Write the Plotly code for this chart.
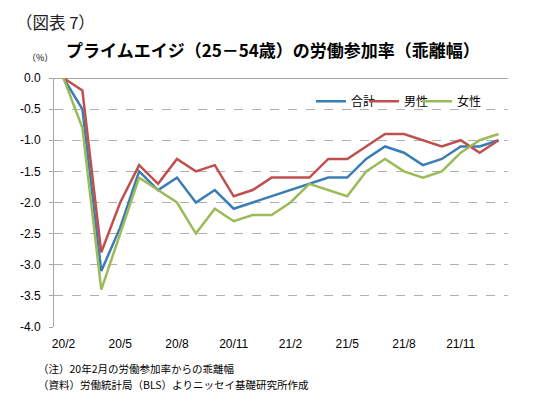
import plotly.graph_objects as go

months = ["20/2", "20/3", "20/4", "20/5", "20/6", "20/7", "20/8", "20/9", "20/10", "20/11", "20/12",
          "21/1", "21/2", "21/3", "21/4", "21/5", "21/6", "21/7", "21/8", "21/9", "21/10", "21/11",
          "21/12", "22/1"]
total = [0.0, -0.5, -3.1, -2.4, -1.5, -1.8, -1.6, -2.0, -1.8, -2.1, -2.0, -1.9,
         -1.8, -1.7, -1.6, -1.6, -1.3, -1.1, -1.2, -1.4, -1.3, -1.1, -1.1, -1.0]
male = [0.0, -0.2, -2.8, -2.0, -1.4, -1.7, -1.3, -1.5, -1.4, -1.9, -1.8, -1.6,
        -1.6, -1.6, -1.3, -1.3, -1.1, -0.9, -0.9, -1.0, -1.1, -1.0, -1.2, -1.0]
female = [0.0, -0.8, -3.4, -2.5, -1.6, -1.8, -2.0, -2.5, -2.1, -2.3, -2.2, -2.2,
          -2.0, -1.7, -1.8, -1.9, -1.5, -1.3, -1.5, -1.6, -1.5, -1.2, -1.0, -0.9]
series_names = ["合計", "男性", "女性"]
colors = ["#3A7DB5", "#C0504D", "#9BBB59"]
x_ticks = ["20/2", "20/5", "20/8", "20/11", "21/2", "21/5", "21/8", "21/11"]
y_ticks = [0.0, -0.5, -1.0, -1.5, -2.0, -2.5, -3.0, -3.5, -4.0]
y_ticktext = ["0.0", "-0.5", "-1.0", "-1.5", "-2.0", "-2.5", "-3.0", "-3.5", "-4.0"]

FONT = "Noto Sans CJK JP"
NUMFONT = "Liberation Sans"

fig = go.Figure()
for name, vals, col in zip(series_names, [total, male, female], colors):
    fig.add_trace(go.Scatter(x=months, y=vals, mode="lines", name=name,
                             line=dict(color=col, width=2.5)))
# invisible spacer entry so the compact legend does not clip the last label
fig.add_trace(go.Scatter(x=[months[0]], y=[None], mode="lines", name=" ", hoverinfo="skip",
                         line=dict(color="rgba(255,255,255,0)", width=0.1)))

n = len(months)
boundary_ticks = [i + 2.5 for i in range(0, n, 3)]

# page body has an 8px margin, so the figure is 8px smaller than the window
fig.update_layout(
    width=532, height=410,
    margin=dict(l=37.5, r=31.5, t=70, b=91),
    paper_bgcolor="white", plot_bgcolor="white",
    font=dict(family=FONT, color="#000000"),
    showlegend=True,
    legend=dict(orientation="h", x=0.566, y=0.907, xanchor="left", yanchor="middle",
                font=dict(size=12, family=FONT), bgcolor="rgba(0,0,0,0)",
                itemwidth=30, tracegroupgap=0, entrywidth=8),
    xaxis=dict(type="category", categoryorder="array", categoryarray=months,
               range=[-0.5, n - 0.5], tickmode="array", tickvals=x_ticks, ticktext=x_ticks,
               showgrid=False, showline=False, zeroline=False, ticks="",
               ticklabelstandoff=8,
               tickfont=dict(size=12, family=NUMFONT, color="#000000")),
    xaxis2=dict(overlaying="x", side="top", anchor="y", range=[-0.5, n - 0.5],
                tickmode="array", tickvals=boundary_ticks, ticks="inside", ticklen=4,
                tickcolor="#A6A6A6", showticklabels=False, showgrid=False,
                showline=False, zeroline=False),
    yaxis=dict(range=[-4.0, 0.0], tickmode="array", tickvals=y_ticks, ticktext=y_ticktext,
               showgrid=True, gridcolor="#B0B0B0", griddash="dash", gridwidth=1,
               zeroline=True, zerolinecolor="#A6A6A6", zerolinewidth=1,
               showline=True, linecolor="#A6A6A6", linewidth=1,
               ticks="outside", ticklen=4, tickcolor="#A6A6A6", ticklabelstandoff=6,
               tickfont=dict(size=12, family=NUMFONT, color="#000000")),
)

fig.add_annotation(text="（図表 7）", xref="paper", yref="paper", x=-0.088, y=1.0,
                   xanchor="left", yanchor="middle", yshift=78 - 22, showarrow=False,
                   font=dict(size=16.5, family=FONT, color="#222222"))
fig.add_annotation(text="<b>プライムエイジ（25－54歳）の労働参加率（乖離幅）</b>", xref="paper",
                   yref="paper", x=0.482, y=1.0, xanchor="center", yanchor="middle",
                   yshift=78 - 49, showarrow=False,
                   font=dict(size=17, family=FONT, color="#000000"))
fig.add_annotation(text="（%）", xref="paper", yref="paper", x=-0.03, y=1.0,
                   xanchor="center", yanchor="middle", yshift=78 - 57, showarrow=False,
                   font=dict(size=9, family=FONT, color="#000000"))
fig.add_annotation(text="（注）20年2月の労働参加率からの乖離幅", xref="paper", yref="paper",
                   x=-0.04, y=0.0, xanchor="left", yanchor="middle", yshift=327 - 368,
                   showarrow=False, font=dict(size=10.5, family=FONT, color="#000000"))
fig.add_annotation(text="（資料）労働統計局（BLS）よりニッセイ基礎研究所作成", xref="paper",
                   yref="paper", x=-0.04, y=0.0, xanchor="left", yanchor="middle",
                   yshift=327 - 384, showarrow=False,
                   font=dict(size=10.5, family=FONT, color="#000000"))

fig.write_html("out.html")
